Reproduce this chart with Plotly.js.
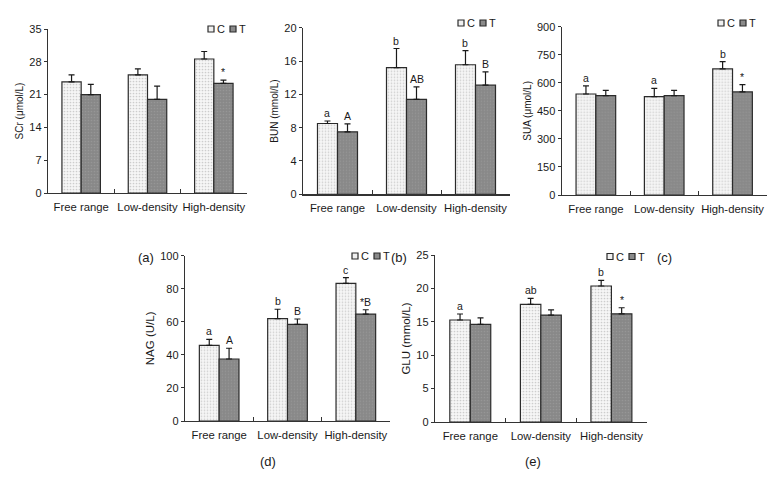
<!DOCTYPE html>
<html>
<head>
<meta charset="utf-8">
<script src="https://cdn.plot.ly/plotly-3.0.1.min.js"></script>
<style>html,body{margin:0;padding:0;background:#fff;}#chart{width:784px;height:479px;}</style>
</head>
<body>
<div id="chart"></div>
<script>
// ---------- data ----------
const categories = ['Free range', 'Low-density', 'High-density'];
const seriesNames = ['C', 'T'];

const scrC = [23.7, 25.2, 28.6];   const scrCErr = [1.5, 1.3, 1.6];
const scrT = [21.0, 20.0, 23.4];   const scrTErr = [2.2, 2.8, 0.7];
const scrCLab = ['', '', ''];      const scrTLab = ['', '', '*'];

const bunC = [8.5, 15.2, 15.55];   const bunCErr = [0.3, 2.3, 1.7];
const bunT = [7.5, 11.4, 13.1];    const bunTErr = [0.95, 1.5, 1.6];
const bunCLab = ['a', 'b', 'b'];   const bunTLab = ['A', 'AB', 'B'];

const suaC = [540, 526, 674];      const suaCErr = [44, 44, 39];
const suaT = [531, 531, 551];      const suaTErr = [29, 29, 39];
const suaCLab = ['a', 'a', 'b'];   const suaTLab = ['', '', '*'];

const nagC = [45.8, 61.9, 83.3];   const nagCErr = [3.6, 5.7, 3.4];
const nagT = [37.5, 58.5, 64.7];   const nagTErr = [6.5, 3.2, 2.6];
const nagCLab = ['a', 'b', 'c'];   const nagTLab = ['A', 'B', '*B'];

const gluC = [15.27, 17.6, 20.36]; const gluCErr = [0.9, 0.9, 0.85];
const gluT = [14.6, 16.0, 16.2];   const gluTErr = [1.0, 0.8, 0.9];
const gluCLab = ['a', 'ab', 'b'];  const gluTLab = ['', '', '*'];

const yTitles = ['SCr (μmol/L)', 'BUN (mmol/L)', 'SUA (μmol/L)', 'NAG (U/L)', 'GLU (mmol/L)'];
const yMax = [35, 20, 900, 100, 25];
const yStep = [7, 4, 150, 20, 5];
const panelLabels = ['(a)', '(b)', '(c)', '(d)', '(e)'];

// ---------- layout geometry (pixels) ----------
const W = 784, H = 479;
const FONT = 'Liberation Sans, Arial, sans-serif';
const panels = [
  {x0: 48,    x1: 247,   y0: 29,    y1: 193,   lab: [146, 257], leg: [208, 29],    tf: 10},
  {x0: 303,   x1: 510,   y0: 27.7,  y1: 194.3, lab: [399, 257], leg: [458, 23],    tf: 10},
  {x0: 561.7, x1: 766.7, y0: 26.7,  y1: 195,   lab: [664, 257], leg: [718, 23],    tf: 10},
  {x0: 185,   x1: 390,   y0: 255.7, y1: 421,   lab: [268, 461], leg: [352, 256],   tf: 11.5},
  {x0: 435,   x1: 646.7, y0: 255,   y1: 422,   lab: [533, 461], leg: [607, 256.5], tf: 11.5}
];
const data = [
  [scrC, scrCErr, scrCLab, scrT, scrTErr, scrTLab],
  [bunC, bunCErr, bunCLab, bunT, bunTErr, bunTLab],
  [suaC, suaCErr, suaCLab, suaT, suaTErr, suaTLab],
  [nagC, nagCErr, nagCLab, nagT, nagTErr, nagTLab],
  [gluC, gluCErr, gluCLab, gluT, gluTErr, gluTLab]
];

const bargap = 0.42;
const half = (1 - bargap) / 4; // offset of each bar centre from the category centre

const styleC = {color: '#efefef', line: {color: '#2b2b2b', width: 1.2},
  pattern: {shape: '.', bgcolor: '#f6f6f6', fgcolor: '#cdcdcd', size: 3, solidity: 0.25, fillmode: 'replace'}};
const styleT = {color: '#8a8a8a', line: {color: '#2b2b2b', width: 1.2},
  pattern: {shape: '.', bgcolor: '#888888', fgcolor: '#969696', size: 3, solidity: 0.25, fillmode: 'replace'}};

const traces = [];
const layout = {
  width: W, height: H, margin: {l: 0, r: 0, t: 0, b: 0},
  paper_bgcolor: '#fff', plot_bgcolor: '#fff',
  barmode: 'group', bargap: bargap, bargroupgap: 0,
  showlegend: false,
  font: {family: FONT, size: 12, color: '#1a1a1a'},
  annotations: [], shapes: []
};

panels.forEach((p, k) => {
  const n = k + 1;
  const xa = 'x' + (n === 1 ? '' : n), ya = 'y' + (n === 1 ? '' : n);
  const [vC, eC, lC, vT, eT, lT] = data[k];
  const zeros = [0, 0, 0];
  [[vC, eC, styleC, 'C'], [vT, eT, styleT, 'T']].forEach(([v, e, st, name]) => {
    traces.push({
      type: 'bar', name: name, x: categories, y: v, xaxis: xa, yaxis: ya,
      marker: st,
      error_y: {type: 'data', symmetric: false, array: e, arrayminus: zeros,
                color: '#1a1a1a', thickness: 1.2, width: 3},
      hoverinfo: 'x+y+name'
    });
  });
  const axX = {
    domain: [p.x0 / W, p.x1 / W], anchor: ya, type: 'category',
    range: [-0.5, 2.5], showline: true, linecolor: '#333', linewidth: 1.2,
    ticks: 'inside', tickson: 'boundaries', ticklen: 4, tickcolor: '#333', tickwidth: 1,
    tickangle: 0, automargin: false,
    tickfont: {family: FONT, size: 11.3, color: '#1a1a1a'}, showgrid: false, zeroline: false,
    ticklabelstandoff: 3, fixedrange: true
  };
  const axY = {
    domain: [1 - p.y1 / H, 1 - p.y0 / H], anchor: xa,
    range: [0, yMax[k]], dtick: yStep[k], tick0: 0,
    showline: true, linecolor: '#333', linewidth: 1.2,
    ticks: 'outside', ticklen: 3, tickcolor: '#333', tickwidth: 1, automargin: false,
    tickfont: {family: FONT, size: 11, color: '#1a1a1a'},
    showgrid: false, zeroline: false, fixedrange: true,
    title: {text: yTitles[k], font: {family: FONT, size: p.tf, color: '#1a1a1a'}, standoff: 3}
  };
  layout['xaxis' + (n === 1 ? '' : n)] = axX;
  layout['yaxis' + (n === 1 ? '' : n)] = axY;

  // significance letters above error bars
  [[vC, eC, lC, -half], [vT, eT, lT, half]].forEach(([v, e, l, off]) => {
    l.forEach((txt, i) => {
      if (!txt) return;
      layout.annotations.push({
        xref: xa, yref: ya, x: i + off, y: v[i] + e[i], text: txt,
        showarrow: false, yanchor: 'bottom', xanchor: 'center', yshift: 0,
        font: {family: FONT, size: 10.5, color: '#1a1a1a'}
      });
    });
  });

  // panel label
  layout.annotations.push({
    xref: 'paper', yref: 'paper', x: p.lab[0] / W, y: 1 - p.lab[1] / H,
    text: panelLabels[k], showarrow: false, xanchor: 'center', yanchor: 'middle',
    font: {family: FONT, size: 13, color: '#1a1a1a'}
  });

  // small legend: swatch + letter for each series
  const fills = ['#f0f0f0', '#8a8a8a'];
  seriesNames.forEach((nm, j) => {
    const sx = p.leg[0] + j * 22, sy = p.leg[1];
    layout.shapes.push({
      type: 'rect', xref: 'paper', yref: 'paper',
      x0: sx / W, x1: (sx + 6) / W, y0: 1 - (sy + 3) / H, y1: 1 - (sy - 3) / H,
      fillcolor: fills[j], line: {color: '#2b2b2b', width: 1.2}
    });
    layout.annotations.push({
      xref: 'paper', yref: 'paper', x: (sx + 7) / W, y: 1 - sy / H, text: nm,
      showarrow: false, xanchor: 'left', yanchor: 'middle',
      font: {family: FONT, size: 11, color: '#1a1a1a'}
    });
  });
});

Plotly.newPlot('chart', traces, layout, {staticPlot: true, displayModeBar: false});
</script>
</body>
</html>
